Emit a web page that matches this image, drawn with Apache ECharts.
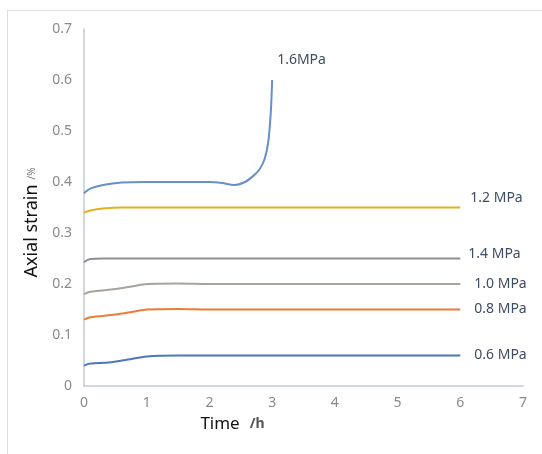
<!DOCTYPE html>
<html>
<head>
<meta charset="utf-8">
<script src="https://cdn.jsdelivr.net/npm/echarts@6/dist/echarts.min.js"></script>
<style>
html,body{margin:0;padding:0;background:#fff;}
#frame{position:absolute;left:7px;top:10px;width:535px;height:444px;border-top:1px solid #dcdde2;border-left:1px solid #dcdde2;}
#chart{position:absolute;left:0;top:0;width:542px;height:454px;}
</style>
</head>
<body>
<div id="frame"></div>
<div id="chart"></div>
<script>
// time (h) and axial strain (%)
var t06 = [0, 0.1, 0.4, 0.7, 1.0, 1.5, 2, 3, 4, 5, 6];
var v06 = [0.040, 0.044, 0.046, 0.052, 0.058, 0.060, 0.060, 0.060, 0.060, 0.060, 0.060];
var t08 = [0, 0.1, 0.5, 0.8, 1.0, 1.5, 2, 3, 4, 5, 6];
var v08 = [0.130, 0.135, 0.140, 0.146, 0.150, 0.151, 0.150, 0.150, 0.150, 0.150, 0.150];
var t10 = [0, 0.1, 0.5, 0.8, 1.0, 1.5, 2, 3, 4, 5, 6];
var v10 = [0.180, 0.185, 0.190, 0.196, 0.200, 0.201, 0.200, 0.200, 0.200, 0.200, 0.200];
var t14 = [0, 0.1, 0.3, 1, 2, 3, 4, 5, 6];
var v14 = [0.243, 0.249, 0.250, 0.250, 0.250, 0.250, 0.250, 0.250, 0.250];
var t12 = [0, 0.1, 0.3, 0.6, 1, 2, 3, 4, 5, 6];
var v12 = [0.340, 0.344, 0.348, 0.350, 0.350, 0.350, 0.350, 0.350, 0.350, 0.350];
var t16 = [0, 0.1, 0.3, 0.6, 1.0, 1.5, 2.0, 2.2, 2.4, 2.55, 2.7, 2.8, 2.88, 2.94, 2.98, 3.0];
var v16 = [0.378, 0.387, 0.394, 0.399, 0.400, 0.400, 0.400, 0.398, 0.394, 0.399, 0.412, 0.425, 0.445, 0.480, 0.540, 0.600];

var xTicks = [0, 1, 2, 3, 4, 5, 6, 7];
var yTicks = [0, 0.1, 0.2, 0.3, 0.4, 0.5, 0.6, 0.7];

function pairs(t, v){
	var out = [];
	for (var i = 0; i < t.length; i++) out.push([t[i], v[i]]);
	return out;
}

function mkSeries(name, t, v, color, off){
	return {
		name: name,
		type: 'line',
		data: pairs(t, v),
		smooth: 0.3,
		showSymbol: false,
		lineStyle: {color: color, width: 2},
		itemStyle: {color: color},
		endLabel: {
			show: true,
			formatter: name,
			distance: 0,
			offset: off,
			color: '#3f4d61',
			fontSize: 14,
			fontFamily: 'Noto Sans'
		}
	};
}

var myChart = echarts.init(document.getElementById('chart'));
var option = {
	animation: false,
	grid: {left: 84, right: 19, top: 29, bottom: 68},
	xAxis: {
		type: 'value',
		min: 0, max: 7, interval: 1,
		splitLine: {show: false},
		axisTick: {show: false},
		axisLine: {lineStyle: {color: '#c3c9d4', width: 1.5}},
		axisLabel: {color: '#8a8a8a', fontSize: 14, margin: 10, fontFamily: 'Noto Sans',
			formatter: function(v){ return xTicks.indexOf(v) >= 0 ? String(v) : ''; }},
		name: '{a|Time}{g| }{b|/h}',
		nameLocation: 'middle',
		nameGap: 30,
		nameTextStyle: {
			padding: [0, 142, 0, 0],
			rich: {
				a: {fontSize: 17, color: '#111', fontFamily: 'Noto Sans'},
				g: {width: 10},
				b: {fontSize: 14, color: '#555', fontFamily: 'Noto Sans', fontWeight: 'bold'}
			}
		}
	},
	yAxis: {
		type: 'value',
		min: 0, max: 0.7, interval: 0.1,
		splitLine: {show: false},
		axisTick: {show: false},
		axisLine: {show: true, lineStyle: {color: '#c3c9d4', width: 1.5}},
		axisLabel: {color: '#8a8a8a', fontSize: 14, margin: 12, fontFamily: 'Noto Sans',
			formatter: function(v){ return String(Math.round(v * 10) / 10); }},
		name: '{a|Axial strain}{g| }{b|/%}',
		nameLocation: 'middle',
		nameGap: 37,
		nameTextStyle: {
			padding: [0, 30, 0, 0],
			rich: {
				a: {fontSize: 18, color: '#111', fontFamily: 'Noto Sans'},
				g: {width: 5},
				b: {fontSize: 10, color: '#777', fontFamily: 'Noto Sans'}
			}
		}
	},
	series: [
		mkSeries('0.6 MPa', t06, v06, '#4a78b8', [14, 0]),
		mkSeries('0.8 MPa', t08, v08, '#ea7d35', [14, 0]),
		mkSeries('1.0 MPa', t10, v10, '#a8a39d', [14, 0]),
		mkSeries('1.4 MPa', t14, v14, '#8e8e8e', [8, -4]),
		mkSeries('1.2 MPa', t12, v12, '#e0b21c', [10, -9]),
		mkSeries('1.6MPa', t16, v16, '#6690c6', [5, -20])
	]
};
myChart.setOption(option);
</script>
</body>
</html>
